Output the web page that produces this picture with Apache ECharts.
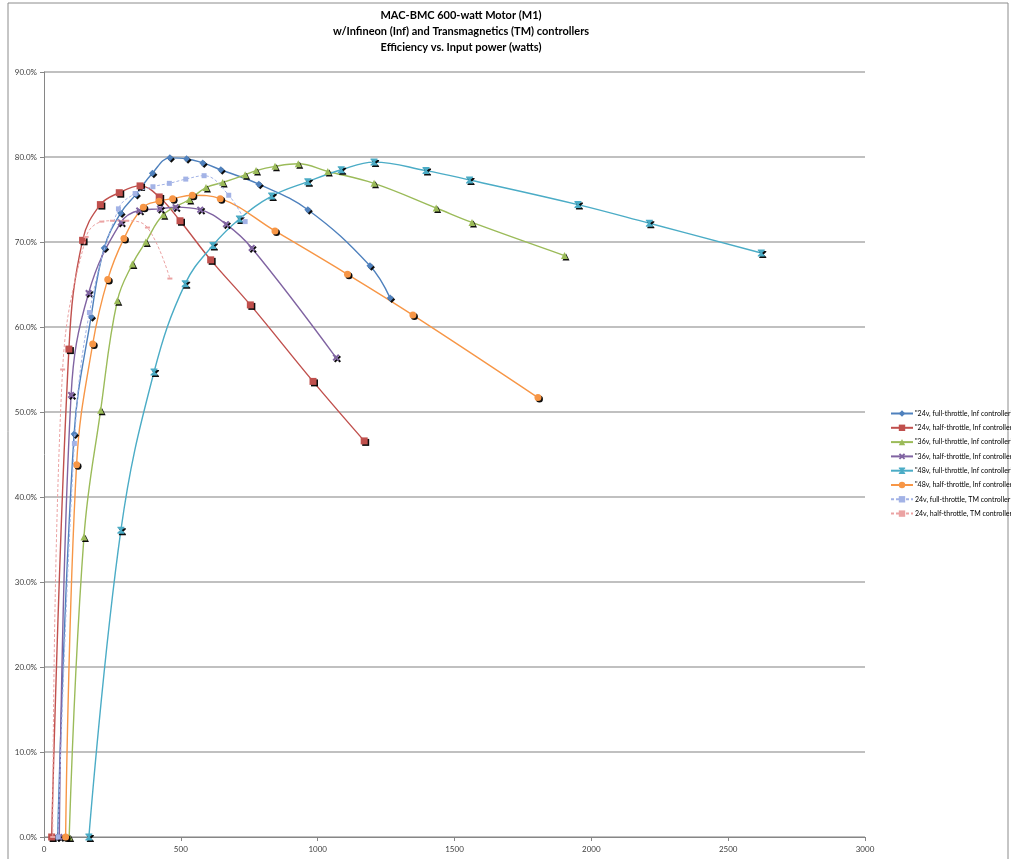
<!DOCTYPE html>
<html>
<head>
<meta charset="UTF-8">
<title>MAC-BMC 600-watt Motor (M1)</title>
<script src="https://cdn.jsdelivr.net/npm/echarts@6/dist/echarts.min.js"></script>
<style>
  html, body { margin: 0; padding: 0; background: #fff; }
  #chart { width: 1011px; height: 859px; }
</style>
</head>
<body>
<div id="chart"></div>
<script>
// input power (W), efficiency (%)
var names = [
  '"24v, full-throttle, Inf controller"',
  '"24v, half-throttle, Inf controller"',
  '"36v, full-throttle, Inf controller"',
  '"36v, half-throttle, Inf controller"',
  '"48v, full-throttle, Inf controller"',
  '"48v, half-throttle, Inf controller"',
  '24v, full-throttle, TM controller',
  '24v, half-throttle, TM controller'
];
var full24Inf = [[50,0],[110,47.4],[172,61.2],[220,69.3],[280,73.4],[336,75.6],[396,78.1],[460,79.9],[521,79.8],[580,79.3],[646,78.5],[785,76.8],[964,73.8],[1191,67.2],[1265,63.4]];
var half24Inf = [[28,0],[91,57.4],[141,70.2],[206,74.4],[275,75.8],[351,76.6],[421,75.3],[497,72.5],[609,67.9],[754,62.6],[983,53.6],[1170,46.6]];
var full36Inf = [[92,0],[146,35.3],[207,50.2],[268,63.1],[323,67.4],[372,70.0],[436,73.2],[531,75.0],[592,76.4],[653,77.0],[735,77.9],[775,78.4],[844,78.9],[929,79.2],[1037,78.3],[1206,76.9],[1433,74.0],[1564,72.3],[1902,68.4]];
var half36Inf = [[56,0],[99,52.0],[163,64.0],[281,72.3],[348,73.7],[424,73.9],[481,74.1],[571,73.8],[665,72.1],[759,69.3],[1067,56.4]];
var full48Inf = [[164,0],[281,36.1],[402,54.7],[516,65.1],[617,69.6],[714,72.7],[832,75.4],[964,77.1],[1086,78.5],[1206,79.4],[1396,78.4],[1555,77.3],[1951,74.4],[2212,72.2],[2621,68.7]];
var half48Inf = [[79,0],[119,43.8],[178,58.0],[233,65.6],[292,70.4],[363,74.1],[420,74.8],[470,75.1],[542,75.5],[644,75.1],[844,71.3],[1109,66.2],[1348,61.4],[1805,51.7]];
var full24TM = [[51,0],[111,46.3],[166,61.7],[272,73.9],[333,75.7],[398,76.5],[458,76.9],[518,77.4],[585,77.8],[675,75.5],[735,72.4]];
var half24TM = [[32,0],[68,55.0],[154,70.6],[211,72.4],[250,72.5],[302,72.5],[378,71.7],[460,65.7]];

var colors = ['#4F81BD', '#C0504D', '#9BBB59', '#8064A2', '#4BACC6', '#F79646', '#A3B3E6', '#EBA3A3'];
var xPath = 'path://M0,2L2,0L5,3L8,0L10,2L7,5L10,8L8,10L5,7L2,10L0,8L3,5Z';
var starPath = 'path://M0,0L10,0L10,1.5L6.2,5L10,8.5L10,10L0,10L0,8.5L3.8,5L0,1.5Z';

var shadow = { shadowColor: 'rgba(0,0,0,0.95)', shadowBlur: 0, shadowOffsetX: 1.5, shadowOffsetY: 1.5 };

function lineSeries(i, data, symbol, size, dashed) {
  var style = { color: colors[i] };
  if (!dashed) Object.assign(style, shadow);
  return {
    name: names[i],
    type: 'line',
    data: data,
    smooth: 0.4,
    symbol: symbol,
    symbolSize: size,
    showAllSymbol: true,
    lineStyle: { color: colors[i], width: dashed ? 1 : 1.4, type: dashed ? [3, 2] : 'solid' },
    itemStyle: style,
    z: dashed ? 3 : 2
  };
}

var chart = echarts.init(document.getElementById('chart'));
var font = 'Lato, "Open Sans", sans-serif';

chart.setOption({
  animation: false,
  backgroundColor: '#fff',
  title: {
    text: 'MAC-BMC 600-watt Motor (M1)\nw/Infineon (Inf) and Transmagnetics (TM) controllers\nEfficiency vs. Input power (watts)',
    left: 456,
    textAlign: 'center',
    top: 2,
    textStyle: { fontFamily: font, fontSize: 11, fontWeight: 'bold', color: '#000', lineHeight: 16 }
  },
  graphic: [{
    type: 'rect',
    shape: { x: 8, y: 3, width: 1000, height: 900 },
    style: { fill: 'none', stroke: '#8c8c8c', lineWidth: 1 },
    silent: true
  }],
  legend: {
    orient: 'vertical',
    left: 885,
    top: 405,
    itemWidth: 22,
    itemHeight: 8,
    itemGap: 7.3,
    textStyle: { fontFamily: font, fontSize: 7, color: '#000', padding: [0, 0, 0, -3] },
    data: names
  },
  grid: { left: 44, right: 146, top: 72, bottom: 22, containLabel: false },
  xAxis: {
    type: 'value',
    min: 0, max: 3000, interval: 500,
    axisLine: { lineStyle: { color: '#868686', width: 1 } },
    axisTick: { show: true, length: 4, lineStyle: { color: '#868686' } },
    axisLabel: { fontFamily: font, fontSize: 8, color: '#404040', margin: 8,
      formatter: function (v) { return String(v); } },
    splitLine: { show: false }
  },
  yAxis: {
    type: 'value',
    min: 0, max: 90, interval: 10,
    axisLine: { show: true, lineStyle: { color: '#868686', width: 1 } },
    axisTick: { show: true, length: 4, lineStyle: { color: '#868686' } },
    axisLabel: { fontFamily: font, fontSize: 8, color: '#404040', margin: 7,
      formatter: function (v) { return v.toFixed(1) + '%'; } },
    splitLine: { lineStyle: { color: '#ABABAB', width: 1.5 } }
  },
  series: [
    lineSeries(0, full24Inf, 'diamond', 7),
    lineSeries(1, half24Inf, 'rect', 7),
    lineSeries(2, full36Inf, 'triangle', 7),
    lineSeries(3, half36Inf, xPath, 7),
    lineSeries(4, full48Inf, starPath, 7),
    lineSeries(5, half48Inf, 'circle', 7),
    lineSeries(6, full24TM, 'rect', 5, true),
    lineSeries(7, half24TM, 'rect', [5, 2], true)
  ]
});
</script>
</body>
</html>
